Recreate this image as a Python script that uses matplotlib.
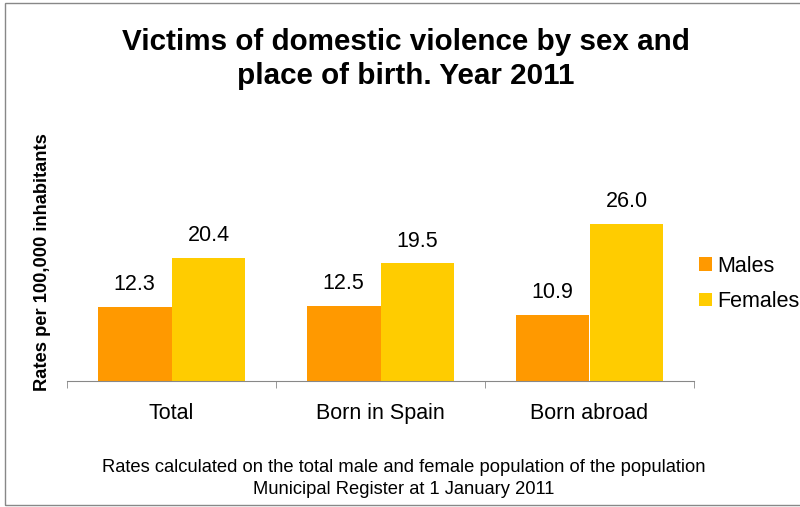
import numpy as np
import matplotlib.pyplot as plt
from matplotlib.patches import Rectangle

categories = ['Total', 'Born in Spain', 'Born abroad']
males = [12.3, 12.5, 10.9]
females = [20.4, 19.5, 26.0]

plt.rcParams['font.family'] = ['Liberation Sans', 'DejaVu Sans']

fig = plt.figure(figsize=(8, 5.07), dpi=100)
W, H = 800., 507.

# frame around the whole chart
fig.patches.append(Rectangle((5 / W, 2 / H), 2, 1 - 5 / H, transform=fig.transFigure,
                             fill=False, edgecolor='#888888', linewidth=1.0))

ax = fig.add_axes([67 / W, 1 - 381 / H, (694 - 67) / W, 181 / H])

x = np.arange(len(categories))
w = 0.354
b1 = ax.bar(x - w / 2, males, w, color='#FF9900', label='Males')
b2 = ax.bar(x + w / 2, females, w, color='#FFCC00', label='Females')

for bars in (b1, b2):
    for r in bars:
        ax.annotate('%.1f' % r.get_height(), (r.get_x() + r.get_width() / 2, r.get_height()),
                    xytext=(0, 8.5), textcoords='offset points', ha='center', va='bottom',
                    fontsize=15.5)

ax.set_xlim(-0.5, 2.5)
ax.set_ylim(0, 30)
ax.set_xticks(x)
ax.set_xticklabels(categories, fontsize=15.5)
ax.set_xticks([-0.5, 0.5, 1.5, 2.5], minor=True)
ax.tick_params(axis='x', which='major', length=0, pad=15.5)
ax.tick_params(axis='x', which='minor', length=5, color='#888888', direction='out')
ax.set_yticks([])
for s in ['top', 'right', 'left']:
    ax.spines[s].set_visible(False)
ax.spines['bottom'].set_color('#888888')

fig.text(43 / W, 1 - 262 / H, 'Rates per 100,000 inhabitants', rotation=90,
         ha='center', va='center', fontsize=13.2, fontweight='bold')

fig.text(406 / W, 1 - 42 / H, 'Victims of domestic violence by sex and', ha='center',
         va='center', fontsize=21.3, fontweight='bold')
fig.text(406 / W, 1 - 76 / H, 'place of birth. Year 2011', ha='center',
         va='center', fontsize=21.3, fontweight='bold')

fig.text(404 / W, 1 - 467 / H, 'Rates calculated on the total male and female population of the population',
         ha='center', va='center', fontsize=13.2)
fig.text(404 / W, 1 - 490 / H, 'Municipal Register at 1 January 2011',
         ha='center', va='center', fontsize=13.2)

fig.legend(handles=[b1, b2], loc='center left', bbox_to_anchor=(699 / W, 1 - 284 / H),
           frameon=False, fontsize=15.5, handlelength=0.6, handleheight=0.6,
           handletextpad=0.25, labelspacing=0.67, borderpad=0, borderaxespad=0)

fig.savefig('out.png', dpi=100)
